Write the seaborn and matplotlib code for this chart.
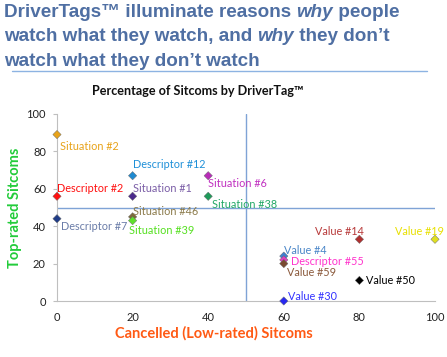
import matplotlib
matplotlib.use("Agg")
import matplotlib.pyplot as plt
import seaborn as sns
import pandas as pd
from matplotlib.lines import Line2D

# ---------------- data ----------------
tags = ["Situation #2", "Descriptor #2", "Descriptor #7", "Descriptor #12", "Situation #1",
        "Situation #6", "Situation #38", "Situation #46", "Situation #39", "Value #14",
        "Value #19", "Value #4", "Descriptor #55", "Value #59", "Value #50", "Value #30"]
cancelled = [0, 0, 0, 20, 20, 40, 40, 20, 20, 80, 100, 60, 60, 60, 80, 60]
top_rated = [89, 56, 44, 67, 56, 67, 56, 45, 43, 33, 33, 24, 22, 20, 11, 0]
x_ticks = [0, 20, 40, 60, 80, 100]
y_ticks = [0, 20, 40, 60, 80, 100]
x_threshold = 50
y_threshold = 50

# ---------------- style ----------------
marker_colors = ["#E8A31A", "#FF1010", "#1F3C88", "#1F8AD0", "#4B2A8C",
                 "#B82CB8", "#1E9A5A", "#7D6A3A", "#5EE02A", "#B03030",
                 "#E0E020", "#3F7FD0", "#E040C0", "#7A4A30", "#000000", "#2828F0"]
label_colors = ["#E8A31A", "#FF1010", "#6A7CA8", "#1F90D8", "#7B5EA7",
                "#C030C0", "#22A866", "#8B7A4A", "#55E020", "#B83A3A",
                "#E8E000", "#4A86C8", "#FF33CC", "#8B5A3C", "#000000", "#3333FF"]
# label offsets in pixels (dx, dy) and alignment
offsets = [(3, -12, "left"), (0, 8, "left"), (4, -8, "left"), (0, 11, "left"),
           (0, 8, "left"), (0, -8, "left"), (4, -8, "left"), (0, 5, "left"),
           (-4, -10, "left"), (4, 8, "right"), (9, 8, "right"), (0, 6, "left"),
           (7, -2, "left"), (3.5, -9, "left"), (7, 0, "left"), (4, 4, "left")]

sns.set_theme(style="white")
plt.rcParams["font.family"] = ["Lato", "DejaVu Sans"]

W, H = 447, 357
fig = plt.figure(figsize=(W / 100, H / 100), dpi=100)
ax = fig.add_axes([57 / W, 1 - 301 / H, (435 - 57) / W, (301 - 114) / H])

df = pd.DataFrame({"tag": tags, "cancelled": cancelled, "top": top_rated})

# quadrant lines
ax.plot([x_ticks[0], x_ticks[-1]], [y_threshold, y_threshold], color="#7FA3D6", lw=1.0, zorder=1)
ax.plot([x_threshold, x_threshold], [y_ticks[0], y_ticks[-1]], color="#7FA3D6", lw=1.0, zorder=1)

sns.scatterplot(data=df, x="cancelled", y="top", hue="tag", palette=marker_colors,
                marker="D", s=18, linewidth=0.3, edgecolor="#666666", legend=False,
                ax=ax, zorder=3, clip_on=False)

for t, xv, yv, lc, (dx, dy, ha) in zip(tags, cancelled, top_rated, label_colors, offsets):
    ax.annotate(t, (xv, yv), xytext=(dx, dy), textcoords="offset pixels",
                ha=ha, va="center", color=lc, fontsize=7.8, annotation_clip=False)

ax.set_xlim(0, 100)
ax.set_ylim(0, 100)
ax.set_xticks(x_ticks)
ax.set_yticks(y_ticks)
ax.tick_params(axis="x", length=0, pad=8, labelsize=8, labelcolor="#222222")
ax.tick_params(axis="y", length=3, width=0.8, color="#BFBFBF", pad=5, labelsize=8,
               labelcolor="#222222", left=True)
for s in ["top", "right"]:
    ax.spines[s].set_visible(False)
for s in ["left", "bottom"]:
    ax.spines[s].set_color("#BFBFBF")
    ax.spines[s].set_linewidth(0.8)
ax.set_xlabel("")
ax.set_ylabel("")

# axis titles
fig.text(214 / W, 1 - 333 / H, "Cancelled (Low-rated) Sitcoms", color="#FF5A14",
         fontsize=10.5, fontweight="bold", ha="center", va="center")
fig.text(15 / W, 1 - 208 / H, "Top-rated Sitcoms", color="#22CC3A",
         fontsize=10.5, fontweight="bold", ha="center", va="center", rotation=90)

# chart title
fig.text(198 / W, 1 - 91 / H, "Percentage of Sitcoms by DriverTag™", color="#111111",
         fontsize=9.1, fontweight="bold", ha="center", va="center")

# header with mixed italics
hdr_color = "#4F6FA3"
hdr_font = dict(family=["Liberation Sans", "DejaVu Sans"], fontsize=13.6,
                fontweight="bold", color=hdr_color, va="baseline")
lines = [
    (17, [("DriverTags™ illuminate reasons ", "normal"), ("why", "italic"), (" people", "normal")]),
    (41, [("watch what they watch, and ", "normal"), ("why", "italic"), (" they don’t", "normal")]),
    (66, [("watch what they don’t watch", "normal")]),
]
renderer = fig.canvas.get_renderer()
for ypix, segs in lines:
    xpix = 4
    for txt, style in segs:
        t = fig.text(xpix / W, 1 - ypix / H, txt, style=style, **hdr_font)
        bb = t.get_window_extent(renderer)
        xpix = bb.x1

fig.add_artist(Line2D([12 / W, 427 / W], [1 - 71 / H, 1 - 71 / H], color="#8DB3E2", lw=1.0))

fig.savefig("out.png", dpi=100)
